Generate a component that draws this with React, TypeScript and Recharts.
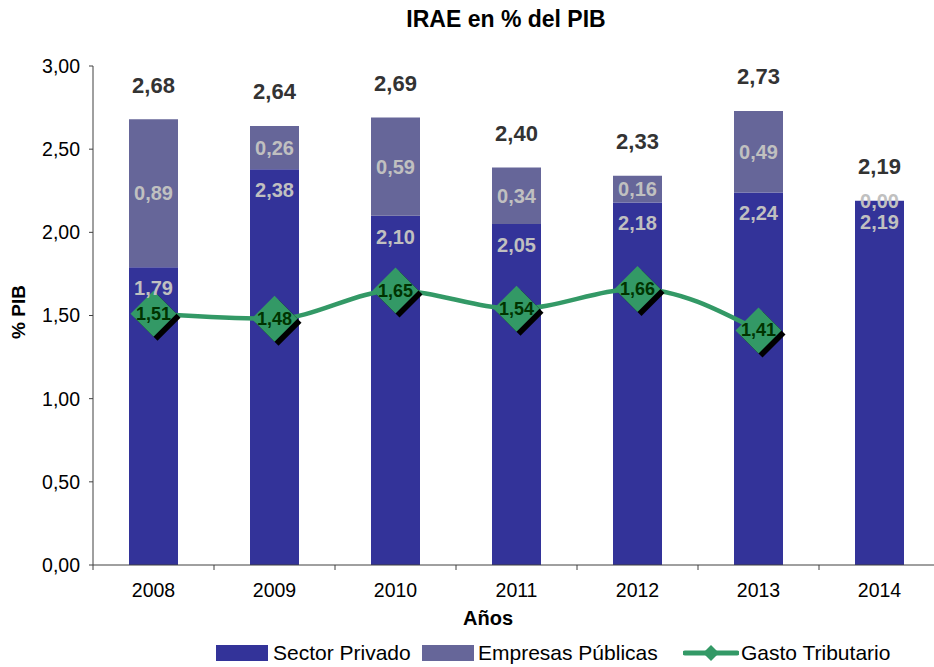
import React from 'react'
import { ComposedChart, Bar, Line, XAxis, YAxis, LabelList, Legend } from 'recharts'

const years = ['2008', '2009', '2010', '2011', '2012', '2013', '2014']
const sectorPrivado = [1.79, 2.38, 2.1, 2.05, 2.18, 2.24, 2.19]
const empresasPublicas = [0.89, 0.26, 0.59, 0.34, 0.16, 0.49, 0.0]
const totales = [2.68, 2.64, 2.69, 2.4, 2.33, 2.73, 2.19]
const gastoTributario: (number | null)[] = [1.51, 1.48, 1.65, 1.54, 1.66, 1.41, null]
const yTicks = [0, 0.5, 1, 1.5, 2, 2.5, 3]

const data = years.map((year, i) => ({
  year,
  privado: sectorPrivado[i],
  publicas: empresasPublicas[i],
  total: totales[i],
  gasto: gastoTributario[i],
}))

const FONT = '"Liberation Sans", Arial, sans-serif'
const AXIS = '#404040'
const C_PRIV = '#333399'
const C_PUB = '#666699'
const C_GASTO = '#339966'

const CHART_W = 940
const CHART_H = 667
const TOP = 66
const Y_AXIS_W = 93
const X_AXIS_H = 102
const AXIS_Y = CHART_H - X_AXIS_H
const BAND = (CHART_W - Y_AXIS_W) / years.length

const fmt = (v: number) => v.toFixed(2).replace('.', ',')

// px height of the Empresas Públicas segment, from the Sector Privado rect's own scale
const pubHeight = (height: number, index: number) =>
  (height * empresasPublicas[index]) / sectorPrivado[index]

const XTick = (props: any) => {
  const { x, payload, index } = props
  const half = BAND / 2
  return (
    <g>
      <line x1={x - half} x2={x - half} y1={AXIS_Y} y2={AXIS_Y + 5} stroke={AXIS} />
      {index === years.length - 1 && (
        <line x1={x + half} x2={x + half} y1={AXIS_Y} y2={AXIS_Y + 5} stroke={AXIS} />
      )}
      <text x={x} y={AXIS_Y + 25} textAnchor="middle" dominantBaseline="central"
        fontFamily={FONT} fontSize={19.5} fill="#000">
        {payload.value}
      </text>
    </g>
  )
}

const InsideTopLabel = (props: any) => {
  const { x, y, width, value } = props
  return (
    <text x={x + width / 2} y={y + 21} textAnchor="middle" dominantBaseline="central"
      fontFamily={FONT} fontSize={20} fontWeight="bold" fill="#C0C0C0">
      {fmt(value)}
    </text>
  )
}

const PubLabel = (props: any) => {
  const { x, y, width, height, index, value } = props
  const h = pubHeight(height, index)
  return (
    <text x={x + width / 2} y={y - h / 2} textAnchor="middle" dominantBaseline="central"
      fontFamily={FONT} fontSize={20} fontWeight="bold" fill="#C0C0C0">
      {fmt(value)}
    </text>
  )
}

const TotalLabel = (props: any) => {
  const { x, y, width, height, index, value } = props
  const h = pubHeight(height, index)
  return (
    <text x={x + width / 2} y={y - h - 34} textAnchor="middle" dominantBaseline="central"
      fontFamily={FONT} fontSize={22} fontWeight="bold" fill="#333333">
      {fmt(value)}
    </text>
  )
}

const LineLabel = (props: any) => {
  const { x, y, value } = props
  if (value == null) return <g />
  return (
    <text x={x} y={y} textAnchor="middle" dominantBaseline="central"
      fontFamily={FONT} fontSize={18} fontWeight="bold" fill="#003300">
      {fmt(value)}
    </text>
  )
}

const Diamond = (props: any) => {
  const { cx, cy, value } = props
  if (cx == null || cy == null || value == null) return <g key={props.key} />
  const r = 23
  const pts = (dx: number, dy: number) =>
    `${cx + dx},${cy + dy - r} ${cx + dx + r},${cy + dy} ${cx + dx},${cy + dy + r} ${cx + dx - r},${cy + dy}`
  return (
    <g key={props.key}>
      <polygon points={pts(4, 4)} fill="#000" />
      <polygon points={pts(0, 0)} fill={C_GASTO} />
    </g>
  )
}

const LegendContent = () => (
  <div style={{ display: 'flex', alignItems: 'center', fontFamily: FONT, fontSize: 21, color: '#000', whiteSpace: 'nowrap' }}>
    <span style={{ display: 'inline-block', width: 52, height: 16, background: C_PRIV, marginRight: 5 }} />
    <span style={{ display: 'inline-block', width: 144 }}>Sector Privado</span>
    <span style={{ display: 'inline-block', width: 52, height: 16, background: C_PUB, marginLeft: 5, marginRight: 4 }} />
    <span style={{ display: 'inline-block', width: 200 }}>Empresas Públicas</span>
    <svg width={56} height={18} style={{ marginLeft: 5, marginRight: 2 }}>
      <line x1={2} x2={54} y1={9} y2={9} stroke={C_GASTO} strokeWidth={5} strokeLinecap="round" />
      <polygon points="28,1 36,9 28,17 20,9" fill={C_GASTO} />
    </svg>
    <span>Gasto Tributario</span>
  </div>
)

export default function App() {
  return (
    <div style={{ position: 'absolute', left: 0, top: 0, width: 934, height: 667, overflow: 'hidden', background: '#fff', fontFamily: FONT }}>
      <div style={{ position: 'absolute', left: 506, top: 8, transform: 'translateX(-50%)', fontSize: 23, lineHeight: '23px', fontWeight: 'bold', whiteSpace: 'nowrap', zIndex: 2 }}>
        IRAE en % del PIB
      </div>
      <ComposedChart width={CHART_W} height={CHART_H} data={data}
        margin={{ top: TOP, right: 0, left: 0, bottom: 0 }}>
        <XAxis dataKey="year" height={X_AXIS_H} interval={0} tickLine={false} stroke={AXIS}
          tick={<XTick />}
          label={{
            content: () => (
              <text x={488} y={618} textAnchor="middle" dominantBaseline="central"
                fontFamily={FONT} fontSize={20} fontWeight="bold" fill="#000">Años</text>
            ),
          }} />
        <YAxis width={Y_AXIS_W} domain={[0, 3]} ticks={yTicks} tickFormatter={fmt}
          tickSize={4} tickMargin={9} stroke={AXIS}
          tick={{ fontFamily: FONT, fontSize: 19.5, fill: '#000' }}
          label={{
            content: () => (
              <text x={18} y={312} transform="rotate(-90 18 312)" textAnchor="middle" dominantBaseline="central"
                fontFamily={FONT} fontSize={19} fontWeight="bold" fill="#000">% PIB</text>
            ),
          }} />
        <Bar dataKey="privado" name="Sector Privado" stackId="a" fill={C_PRIV} barSize={49} isAnimationActive={false}>
          <LabelList dataKey="privado" content={<InsideTopLabel />} />
          <LabelList dataKey="publicas" content={<PubLabel />} />
          <LabelList dataKey="total" content={<TotalLabel />} />
        </Bar>
        <Bar dataKey="publicas" name="Empresas Públicas" stackId="a" fill={C_PUB} barSize={49} isAnimationActive={false} />
        <Line dataKey="gasto" name="Gasto Tributario" type="monotone" stroke={C_GASTO} strokeWidth={4.5}
          dot={Diamond} activeDot={false} isAnimationActive={false}>
          <LabelList dataKey="gasto" content={<LineLabel />} />
        </Line>
        <Legend layout="horizontal" verticalAlign="middle" align="center" content={<LegendContent />}
          wrapperStyle={{ top: 641, left: 216, width: 'auto' }} />
      </ComposedChart>
    </div>
  )
}
